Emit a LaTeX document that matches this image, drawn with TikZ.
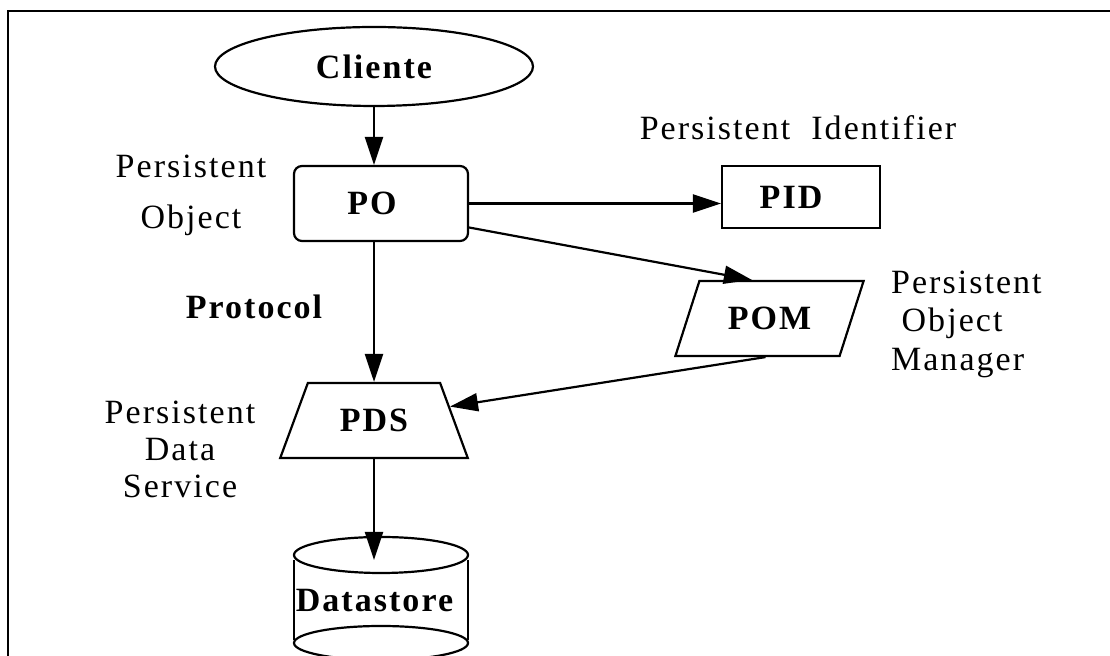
\documentclass[tikz,border=0pt]{standalone}
\usepackage{fontspec}
\setmainfont{Liberation Serif}[LetterSpace=6]
\usetikzlibrary{shapes.geometric,arrows.meta,calc}

\tikzset{
  txt/.style={font=\fontsize{17}{19}\selectfont, inner sep=0pt, align=center},
  lbl/.style={font=\fontsize{17}{19}\selectfont\bfseries, inner sep=0pt},
  flow/.style={-{Triangle[length=14pt,width=9pt]}},
}

\begin{document}
\begin{tikzpicture}[x=0.5pt,y=-0.5pt,line width=1.1pt]
\useasboundingbox (0,0) rectangle (1110,656);
\draw (8,656) -- (8,11) -- (1110,11);

% boxes
\node[lbl,draw,ellipse,minimum width=159pt,minimum height=39.5pt] (cli) at (374,66.5) {Cliente};
\node[lbl,draw,rounded corners=4pt,minimum width=87pt,minimum height=37.5pt] (po) at (381,203.5) {\hspace*{-9pt}PO};
\node[lbl,draw,minimum width=79pt,minimum height=31pt] (pid) at (801,197) {\hspace*{-10pt}PID};
\node[lbl,draw,trapezium,trapezium left angle=58,trapezium right angle=122,trapezium stretches=true,
  minimum width=94.5pt,minimum height=37.5pt] (pom) at (769.5,318.5) {POM};
\node[lbl,draw,trapezium,trapezium left angle=58,trapezium right angle=58,trapezium stretches=true,
  minimum width=94pt,minimum height=37.5pt] (pds) at (374,420.5) {PDS};

% datastore
\draw (381,555) ellipse [x radius=43.5pt,y radius=9pt];
\draw (381,643) ellipse [x radius=43.5pt,y radius=8.5pt];
\draw (294,560) -- (294,640) (468,560) -- (468,640);
\node[lbl] (ds) at (374.5,601) {Datastore};
\coordinate (dstop) at (374,560);

% labels
\node[txt,font=\fontsize{17}{25.5}\selectfont] (polbl) at (191,195) {Persistent\\Object};
\node[txt,anchor=base] (pidlbl) at (798,140) {Persistent\ \ Identifier};
\node[lbl,anchor=base] (proto) at (254,319) {Protocol};
\node[txt,font=\fontsize{17}{19.25}\selectfont,align=left,anchor=west] (pomlbl) at (890,324) {Persistent\\\ Object\\Manager};
\node[txt,font=\fontsize{17}{18.5}\selectfont] (pdslbl) at (180,449) {Persistent\\Data\\Service};

% connectors
\draw[flow] (cli.south) -- (cli.south |- po.north);
\draw[flow] (po.east) -- (po.east -| pid.west);
\draw[flow] ([yshift=-12pt]po.east) -- ($(pom.top left corner)!0.32!(pom.top right corner)$);
\draw[flow] (pds.north |- po.south) -- (pds.north);
\draw[flow] ($(pom.bottom left corner)!0.55!(pom.bottom right corner)$) -- ($(pds.bottom right corner)!0.68!(pds.top right corner)$);
\draw[flow] (pds.south) -- (pds.south |- dstop);
\end{tikzpicture}
\end{document}
